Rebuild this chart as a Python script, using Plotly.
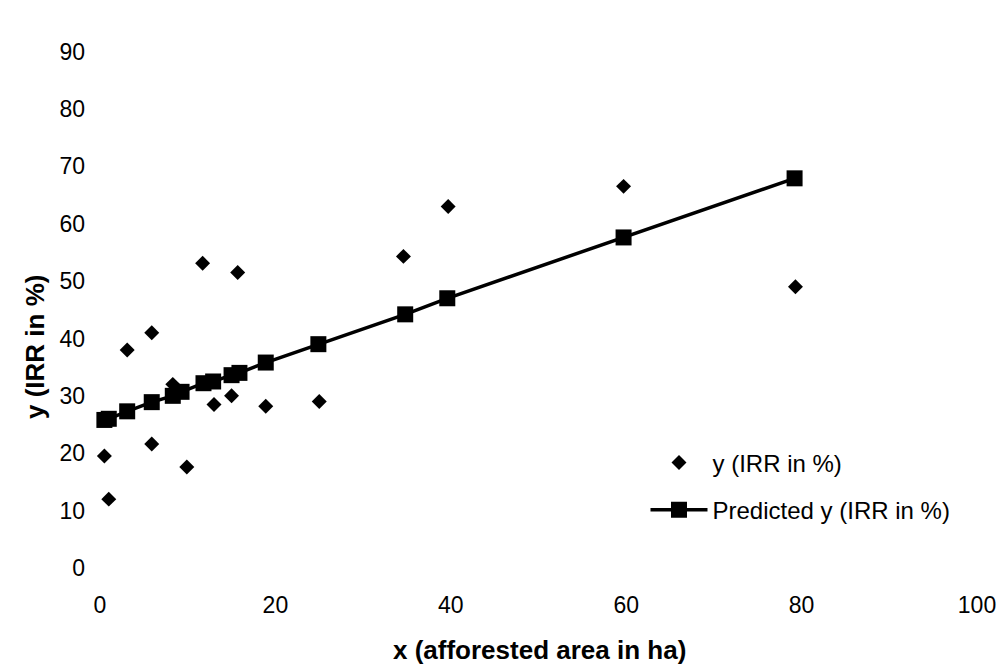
import plotly.graph_objects as go

# Observed data (x = afforested area in ha, y = IRR in %)
x_obs = [0.5, 1.0, 3.1, 5.9, 5.9, 8.3, 9.9, 11.7, 13.0, 15.0, 15.7, 18.9, 25.0, 34.6, 39.7, 59.7, 79.3]
y_obs = [19.5, 12.0, 38.0, 41.0, 21.6, 32.0, 17.6, 53.1, 28.5, 30.0, 51.5, 28.2, 29.0, 54.3, 63.0, 66.5, 49.0]

# Predicted values (regression line)
x_pred = [0.5, 1.0, 3.1, 5.9, 8.3, 9.3, 11.8, 12.9, 15.0, 15.9, 18.9, 24.9, 34.8, 39.6, 59.7, 79.2]
y_pred = [25.8, 26.0, 27.3, 28.9, 30.0, 30.7, 32.2, 32.5, 33.6, 34.0, 35.8, 39.0, 44.2, 47.0, 57.6, 67.9]

x_ticks = [0, 20, 40, 60, 80, 100]
y_ticks = [0, 10, 20, 30, 40, 50, 60, 70, 80, 90]

FONT = "Liberation Sans, Arial, sans-serif"

fig = go.Figure()
fig.add_trace(go.Scatter(
    x=x_obs, y=y_obs, mode="markers", name="y (IRR in %)",
    marker=dict(symbol="diamond", size=11.5, color="black"),
    legendgroup="a", cliponaxis=False,
))
fig.add_trace(go.Scatter(
    x=x_pred, y=y_pred, mode="lines+markers", name="Predicted y (IRR in %)",
    line=dict(color="black", width=3.5),
    marker=dict(symbol="square", size=16, color="black"),
    legendgroup="b", cliponaxis=False,
))

fig.update_layout(
    width=1000, height=664,
    margin=dict(l=100, r=23, t=1, b=96),
    paper_bgcolor="white", plot_bgcolor="white",
    font=dict(family=FONT, size=23, color="black"),
    showlegend=True,
    legend=dict(
        x=0.622, y=0.144, xanchor="left", yanchor="middle",
        font=dict(family=FONT, size=24, color="black"),
        itemwidth=57, tracegroupgap=13,
        bgcolor="rgba(0,0,0,0)",
    ),
    xaxis=dict(
        range=[0, 100], tickvals=x_ticks, ticktext=[str(v) for v in x_ticks],
        showgrid=False, zeroline=False, showline=False, ticks="",
        ticklabelstandoff=21,
        tickfont=dict(family=FONT, size=23, color="black"),
    ),
    yaxis=dict(
        range=[0, 98.8], tickvals=y_ticks, ticktext=[str(v) for v in y_ticks],
        showgrid=False, zeroline=False, showline=False, ticks="",
        ticklabelstandoff=14,
        tickfont=dict(family=FONT, size=23, color="black"),
    ),
    annotations=[
        dict(text="<b>x (afforested area in ha)</b>", xref="paper", yref="paper",
             x=0.5016, y=-0.1446, xanchor="center", yanchor="middle", showarrow=False,
             font=dict(family=FONT, size=26, color="black")),
        dict(text="<b>y (IRR in %)</b>", xref="paper", yref="paper",
             x=-0.074, y=0.39, xanchor="center", yanchor="middle", showarrow=False,
             textangle=-90, font=dict(family=FONT, size=26, color="black")),
    ],
)

fig.write_html("out.html")
